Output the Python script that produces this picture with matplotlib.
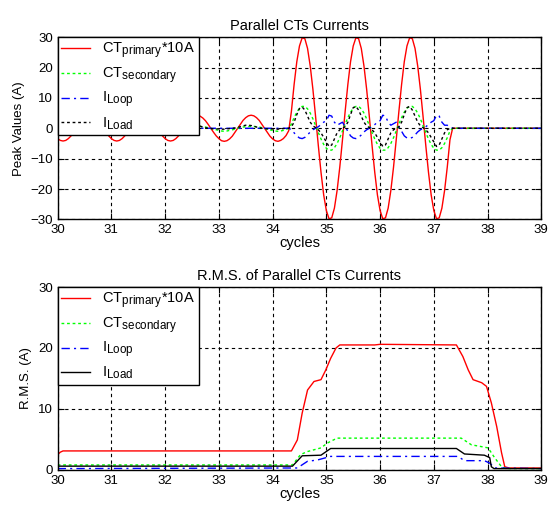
import numpy as np
import matplotlib
matplotlib.use("Agg")
import matplotlib.pyplot as plt

try:
    # slightly larger subscripts, closer to the original legend
    import matplotlib._mathtext as _mt
    _mt.SHRINK_FACTOR = 0.8
except Exception:
    pass

plt.rcParams['font.family'] = ['Liberation Sans', 'DejaVu Sans']
plt.rcParams['font.size'] = 9

# ---- top plot: instantaneous currents, sampled every 0.05 cycle from 30 to 39
cycles = np.round(np.arange(30, 39.001, 0.05), 2)

ct_primary = (
    [-3.4, -4.0, -4.2, -4.0, -3.4, -2.5, -1.3, 0.0, 1.3, 2.5, 3.4, 4.0, 4.2, 4.0, 3.4, 2.5, 1.3, 0.0, -1.3, -2.5] +
    [-3.4, -4.0, -4.2, -4.0, -3.4, -2.5, -1.3, 0.0, 1.3, 2.5, 3.4, 4.0, 4.2, 4.0, 3.4, 2.5, 1.3, 0.0, -1.3, -2.5] +
    [-3.4, -4.0, -4.2, -4.0, -3.4, -2.5, -1.3, 0.0, 1.3, 2.5, 3.4, 4.0, 4.2, 4.0, 3.4, 2.5, 1.3, 0.0, -1.3, -2.5] +
    [-3.4, -4.1, -4.3, -4.1, -3.5, -2.6, -1.3, 0.0, 1.3, 2.6, 3.5, 4.1, 4.3, 4.1, 3.5, 2.6, 1.3, 0.0, -1.3, -2.6] +
    [-3.5, -4.1, -4.3, -4.0, -3.4, -2.4, -0.8, 5.6, 14.4, 21.9, 27.1, 29.8, 29.5, 26.3, 20.5, 12.8, 3.8, -5.6, -14.4, -21.9] +
    [-27.1, -29.8, -29.5, -26.3, -20.5, -12.8, -3.8, 5.6, 14.4, 21.9, 27.1, 29.8, 29.5, 26.3, 20.5, 12.8, 3.8, -5.6, -14.4, -21.9] +
    [-27.1, -29.8, -29.5, -26.3, -20.5, -12.8, -3.8, 5.6, 14.4, 21.9, 27.1, 29.8, 29.5, 26.3, 20.5, 12.8, 3.8, -5.6, -14.4, -21.9] +
    [-27.1, -29.8, -29.5, -26.3, -20.5, -12.8, -3.8, 0.0, 0.0, 0.0, 0.0, 0.0, 0.0, 0.0, 0.0, 0.0, 0.0, 0.0, 0.0, 0.0] +
    [0.0, 0.0, 0.0, 0.0, 0.0, 0.0, 0.0, 0.0, 0.0, 0.0, 0.0, 0.0, 0.0, 0.0, 0.0, 0.0, 0.0, 0.0, 0.0, 0.0] +
    [0.0]
)

ct_secondary = (
    [-0.7, -0.9, -1.0, -0.9, -0.7, -0.5, -0.3, 0.0, 0.2, 0.4, 0.5, 0.6, 0.6, 0.6, 0.5, 0.4, 0.2, 0.0, -0.3, -0.5] +
    [-0.7, -0.9, -1.0, -0.9, -0.7, -0.5, -0.3, 0.0, 0.2, 0.4, 0.5, 0.6, 0.6, 0.6, 0.5, 0.4, 0.2, 0.0, -0.3, -0.5] +
    [-0.7, -0.9, -1.0, -0.9, -0.7, -0.5, -0.3, 0.0, 0.2, 0.4, 0.5, 0.6, 0.6, 0.6, 0.5, 0.4, 0.2, 0.0, -0.3, -0.5] +
    [-0.7, -0.9, -1.0, -0.9, -0.7, -0.5, -0.3, 0.0, 0.2, 0.4, 0.5, 0.6, 0.6, 0.6, 0.5, 0.4, 0.2, 0.0, -0.3, -0.5] +
    [-0.7, -0.9, -1.0, -0.9, -0.7, -0.4, 0.0, 1.4, 3.5, 5.3, 6.6, 7.2, 7.2, 6.4, 5.0, 3.1, 0.9, -1.4, -3.5, -5.3] +
    [-6.6, -7.2, -7.2, -6.4, -5.0, -3.1, -0.9, 1.4, 3.5, 5.3, 6.6, 7.2, 7.2, 6.4, 5.0, 3.1, 0.9, -1.4, -3.5, -5.3] +
    [-6.6, -7.2, -7.2, -6.4, -5.0, -3.1, -0.9, 1.4, 3.5, 5.3, 6.6, 7.2, 7.2, 6.4, 5.0, 3.1, 0.9, -1.4, -3.5, -5.3] +
    [-6.6, -7.2, -7.2, -6.4, -5.0, -3.1, -0.9, 0.0, 0.0, 0.0, 0.0, 0.0, 0.0, 0.0, 0.0, 0.0, 0.0, 0.0, 0.0, 0.0] +
    [0.0, 0.0, 0.0, 0.0, 0.0, 0.0, 0.0, 0.0, 0.0, 0.0, 0.0, 0.0, 0.0, 0.0, 0.0, 0.0, 0.0, 0.0, 0.0, 0.0] +
    [0.0]
)

i_loop = (
    [0.0, 0.0, 0.0, 0.0, 0.0, 0.0, 0.0, 0.0, 0.0, 0.0, 0.0, 0.0, 0.0, 0.0, 0.0, 0.0, 0.0, 0.0, 0.0, 0.0] +
    [0.0, 0.0, 0.0, 0.0, 0.0, 0.0, 0.0, 0.0, 0.0, 0.0, 0.0, 0.0, 0.0, 0.0, 0.0, 0.0, 0.0, 0.0, 0.0, 0.0] +
    [0.0, 0.0, 0.0, 0.0, 0.0, 0.0, 0.0, 0.0, 0.0, 0.0, 0.0, 0.0, 0.0, 0.0, 0.0, 0.0, 0.0, 0.0, 0.0, 0.0] +
    [0.0, 0.0, 0.0, 0.0, 0.0, 0.0, 0.0, 0.0, 0.0, 0.0, 0.0, 0.0, 0.0, 0.0, 0.0, 0.0, 0.0, 0.0, 0.0, 0.0] +
    [0.0, 0.0, 0.0, 0.0, 0.0, 0.0, 0.0, -0.5, -1.5, -2.5, -3.2, -3.4, -3.0, -2.2, -1.2, -0.5, 0.0, 0.5, 1.2, 2.0] +
    [2.5, 4.3, 4.0, 2.0, 1.0, 1.5, 2.0, 0.5, -1.0, -2.5, -3.2, -3.4, -3.0, -2.2, -1.2, -0.5, 0.0, 0.5, 1.2, 2.0] +
    [2.5, 4.3, 4.0, 2.0, 1.0, 1.5, 2.0, 0.5, -1.0, -2.5, -3.2, -3.4, -3.0, -2.2, -1.2, -0.5, 0.0, 0.5, 1.2, 2.0] +
    [2.5, 4.3, 4.0, 2.0, 1.0, 1.0, 0.5, 0.0, 0.0, 0.0, 0.0, 0.0, 0.0, 0.0, 0.0, 0.0, 0.0, 0.0, 0.0, 0.0] +
    [0.0, 0.0, 0.0, 0.0, 0.0, 0.0, 0.0, 0.0, 0.0, 0.0, 0.0, 0.0, 0.0, 0.0, 0.0, 0.0, 0.0, 0.0, 0.0, 0.0] +
    [0.0]
)

i_load = (
    [-0.2, -0.3, -0.3, -0.2, -0.1, 0.0, 0.1, 0.3, 0.5, 0.8, 1.0, 1.0, 0.9, 0.7, 0.4, 0.2, 0.0, -0.1, -0.2, -0.2] +
    [-0.2, -0.3, -0.3, -0.2, -0.1, 0.0, 0.1, 0.3, 0.5, 0.8, 1.0, 1.0, 0.9, 0.7, 0.4, 0.2, 0.0, -0.1, -0.2, -0.2] +
    [-0.2, -0.3, -0.3, -0.2, -0.1, 0.0, 0.1, 0.3, 0.5, 0.8, 1.0, 1.0, 0.9, 0.7, 0.4, 0.2, 0.0, -0.1, -0.2, -0.2] +
    [-0.2, -0.3, -0.3, -0.2, -0.1, 0.0, 0.1, 0.3, 0.5, 0.8, 1.0, 1.0, 0.9, 0.7, 0.4, 0.2, 0.0, -0.1, -0.2, -0.2] +
    [-0.2, -0.3, -0.3, -0.2, -0.1, 0.0, 0.0, 0.5, 2.0, 4.5, 6.5, 7.0, 6.0, 4.0, 2.0, 0.8, 0.2, -0.5, -1.5, -3.0] +
    [-4.5, -6.0, -5.5, -3.5, -1.5, -0.5, 0.0, 0.5, 2.0, 4.5, 6.8, 7.2, 6.0, 4.0, 2.0, 0.8, 0.2, -0.5, -1.5, -3.0] +
    [-4.5, -6.0, -5.5, -3.5, -1.5, -0.5, 0.0, 0.5, 2.0, 4.5, 6.8, 7.2, 6.0, 4.0, 2.0, 0.8, 0.2, -0.5, -1.5, -3.0] +
    [-4.5, -6.0, -5.5, -3.5, -1.5, -0.5, 0.0, 0.0, 0.0, 0.0, 0.0, 0.0, 0.0, 0.0, 0.0, 0.0, 0.0, 0.0, 0.0, 0.0] +
    [0.0, 0.0, 0.0, 0.0, 0.0, 0.0, 0.0, 0.0, 0.0, 0.0, 0.0, 0.0, 0.0, 0.0, 0.0, 0.0, 0.0, 0.0, 0.0, 0.0] +
    [0.0]
)

# ---- bottom plot: r.m.s. values (breakpoints)
rms_primary_x = [30.0, 30.05, 30.1, 34.35, 34.46, 34.55, 34.65, 34.77, 34.9, 34.99, 35.08, 35.18, 35.25,
                 35.9, 36.0, 37.42, 37.54, 37.64, 37.73, 37.89, 37.98, 38.07, 38.17, 38.26, 38.32, 38.4, 39.0]
rms_primary = [2.5, 2.9, 3.1, 3.1, 4.9, 9.3, 13.1, 14.5, 14.8, 16.4, 18.3, 20.0, 20.5,
               20.5, 20.6, 20.5, 18.6, 16.4, 14.8, 14.3, 13.7, 11.0, 7.1, 2.8, 0.5, 0.3, 0.3]

rms_secondary_x = [30.0, 34.37, 34.52, 34.65, 34.9, 35.02, 35.2, 37.51, 37.7, 37.89, 38.01, 38.13, 38.26, 38.35, 39.0]
rms_secondary = [0.8, 0.8, 2.5, 3.0, 3.6, 4.4, 5.2, 5.2, 4.1, 3.8, 3.6, 2.0, 0.5, 0.2, 0.2]

rms_loop_x = [30.0, 34.46, 34.65, 34.83, 35.08, 37.45, 37.57, 37.94, 38.04, 38.13, 39.0]
rms_loop = [0.2, 0.3, 1.4, 1.6, 2.2, 2.2, 1.5, 1.5, 1.1, 0.3, 0.2]

rms_load_x = [30.0, 34.37, 34.55, 34.9, 35.08, 37.42, 37.57, 37.94, 38.04, 38.07, 38.12, 39.0]
rms_load = [0.6, 0.6, 2.3, 2.4, 3.5, 3.5, 2.6, 2.4, 2.0, 0.5, 0.2, 0.2]

labels = ['CT$_\\mathregular{primary}$*10A', 'CT$_\\mathregular{secondary}$',
          'I$_\\mathregular{Loop}$', 'I$_\\mathregular{Load}$']

dotted = (0, (2, 2))
dashdot = (0, (6, 3, 1.5, 3))
gridstyle = (0, (3, 3))

fig = plt.figure(figsize=(5.49, 5.09), dpi=100)
ax1 = fig.add_axes([0.105, 0.569, 0.881, 0.358])
ax2 = fig.add_axes([0.105, 0.077, 0.881, 0.359])

ax1.plot(cycles, ct_primary, color='#ff0000', lw=1, label=labels[0])
ax1.plot(cycles, ct_secondary, color='#00ff00', lw=1, ls=dotted, label=labels[1])
ax1.plot(cycles, i_loop, color='#0000ff', lw=1, ls=dashdot, label=labels[2])
ax1.plot(cycles, i_load, color='k', lw=1, ls=dotted, label=labels[3])
ax1.set_ylim(-30, 30)
ax1.set_yticks([-30, -20, -10, 0, 10, 20, 30])
ax1.set_title('Parallel CTs Currents', fontsize=10.5, pad=5)
ax1.set_ylabel('Peak Values (A)', fontsize=9.5)

ax2.plot(rms_primary_x, rms_primary, color='#ff0000', lw=1, label=labels[0])
ax2.plot(rms_secondary_x, rms_secondary, color='#00ff00', lw=1, ls=dotted, label=labels[1])
ax2.plot(rms_loop_x, rms_loop, color='#0000ff', lw=1, ls=dashdot, label=labels[2])
ax2.plot(rms_load_x, rms_load, color='k', lw=1, label=labels[3])
ax2.set_ylim(0, 30)
ax2.set_yticks([0, 10, 20, 30])
ax2.set_title('R.M.S. of Parallel CTs Currents', fontsize=10.5, pad=5)
ax2.set_ylabel('R.M.S. (A)', fontsize=9.5)

for ax in (ax1, ax2):
    ax.set_xlim(30, 39)
    ax.set_xticks(range(30, 40))
    ax.set_xlabel('cycles', fontsize=10.5, labelpad=0)
    ax.grid(True, color='k', ls=gridstyle, lw=0.8)
    ax.tick_params(direction='in', length=4, top=True, right=True, labelsize=9.5)
    for s in ax.spines.values():
        s.set_linewidth(1)
    leg = ax.legend(loc='upper left', borderaxespad=0, fancybox=False, framealpha=1,
                    edgecolor='k', fontsize=10.5, handlelength=2.0, handletextpad=0.8,
                    labelspacing=0.3, borderpad=0.25)
    leg.get_frame().set_linewidth(1)

fig.savefig('out.png', dpi=100)
